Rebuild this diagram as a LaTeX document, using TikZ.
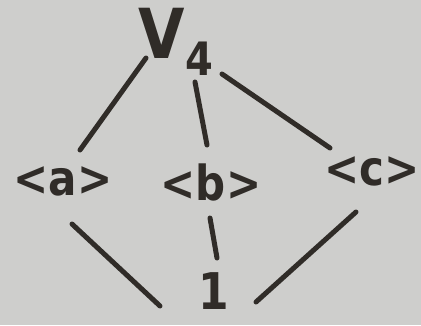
\documentclass[tikz,border=0pt]{standalone}
\usepackage{fontspec}
\setmainfont{DejaVu Sans}
\definecolor{ink}{RGB}{48,44,40}
\definecolor{paper}{RGB}{206,206,204}
\begin{document}
\begin{tikzpicture}[x=1pt,y=-1pt,
  lbl/.style={font=\bfseries\fontsize{42}{42}\selectfont, text=ink, inner sep=0pt, yscale=1.15},
  edge/.style={line width=5pt, line cap=round, ink}]
\fill[paper] (0,0) rectangle (421,325);
\useasboundingbox (0,0) rectangle (421,325);
\node[lbl, yscale=1.0] (v4) at (176,42) {\fontsize{60}{60}\selectfont V\raisebox{-15pt}{\fontsize{40}{40}\selectfont 4}};
\node[lbl] (a) at (63,181) {<a>};
\node[lbl] (b) at (211,182) {<b>};
\node[lbl] (c) at (372,171) {<c>};
\node[lbl, yscale=1.0] (one) at (214,291) {\fontsize{44}{44}\selectfont 1};
\coordinate (e1s) at (146,58); \coordinate (e1t) at (80,150);
\coordinate (e2s) at (195,82); \coordinate (e2t) at (207,145);
\coordinate (e3s) at (222,74); \coordinate (e3t) at (330,148);
\coordinate (e4s) at (72,224); \coordinate (e4t) at (160,306);
\coordinate (e5s) at (210,218); \coordinate (e5t) at (217,258);
\coordinate (e6s) at (256,302); \coordinate (e6t) at (356,212);
\draw[edge] (e1s) -- (e1t);
\draw[edge] (e2s) -- (e2t);
\draw[edge] (e3s) -- (e3t);
\draw[edge] (e4s) -- (e4t);
\draw[edge] (e5s) -- (e5t);
\draw[edge] (e6s) -- (e6t);
\end{tikzpicture}
\end{document}
